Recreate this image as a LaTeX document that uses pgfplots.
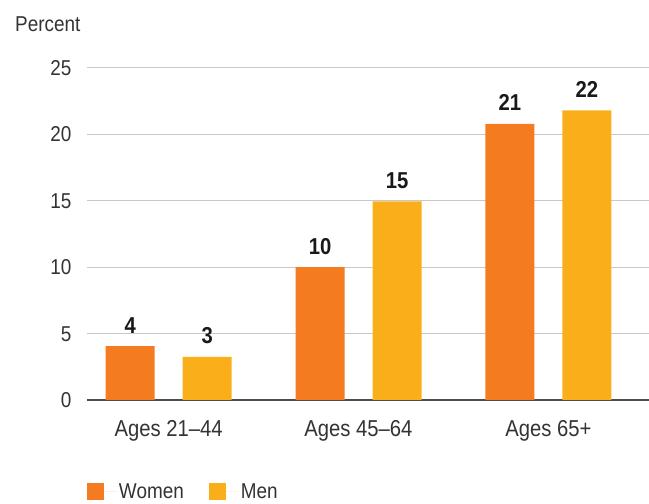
\documentclass[border=0pt]{standalone}
\usepackage{fontspec}
\setmainfont{Liberation Sans}[FakeStretch=0.88]
\usepackage{pgfplots}
\pgfplotsset{compat=1.18}
\definecolor{women}{HTML}{F47B20}
\definecolor{men}{HTML}{FAAF1A}
\definecolor{txt}{HTML}{333333}
\definecolor{gridc}{HTML}{C8C8C8}
\newcommand{\lblfont}{\fontsize{21.5bp}{25bp}\selectfont}
\newcommand{\catfont}{\fontsize{23bp}{27bp}\selectfont}
\begin{document}
\begin{tikzpicture}
\useasboundingbox (0bp,0bp) rectangle (649bp,504bp);
\node[anchor=base west, text=txt, font=\lblfont, inner sep=0pt] at (15bp,472bp) {Percent};
\begin{axis}[
  at={(87bp,104bp)}, anchor=south west,
  scale only axis, width=562bp, height=332bp,
  ybar=28bp, bar width=49bp,
  xmin=-0.43, xmax=2.53,
  ymin=0, ymax=25,
  ytick={0,5,...,25},
  xtick={0,1,2},
  xticklabels={Ages 21–44, Ages 45–64, Ages 65+},
  major tick length=0pt,
  separate axis lines,
  axis x line*=bottom,
  axis y line*=left,
  x axis line style={draw=black!70, line width=1.2bp, -},
  y axis line style={draw=none},
  ymajorgrids,
  grid style={draw=gridc, line width=1bp},
  /pgf/number format/assume math mode=true,
  tick label style={font=\lblfont, text=txt},
  yticklabel style={anchor=base east, xshift=-12bp, yshift=-7.5bp},
  xticklabel style={anchor=base, yshift=-36bp, inner sep=0pt, font=\catfont},
  nodes near coords={\pgfmathprintnumber[fixed,precision=0]{\pgfplotspointmeta}},
  every node near coord/.append style={anchor=base, yshift=13bp, font=\catfont\bfseries, text=black!90, inner sep=0pt},
  legend columns=2,
  legend image code/.code={\fill[#1] (0bp,-8.5bp) rectangle (17bp,8.5bp); \path (0bp,0bp) -- (30bp,0bp);},
  legend style={at={(axis description cs:0,-0.2756)}, anchor=west, draw=none, fill=none,
    inner sep=0pt, outer sep=0pt, font=\lblfont, text=txt,
    /tikz/every even column/.append style={column sep=23bp}},
]
\addplot[fill=women, draw=none] coordinates {(0,4.06) (1,10.0) (2,20.8)};
\addplot[fill=men, draw=none] coordinates {(0,3.24) (1,14.95) (2,21.8)};
\legend{Women, Men}
\end{axis}
\end{tikzpicture}
\end{document}
